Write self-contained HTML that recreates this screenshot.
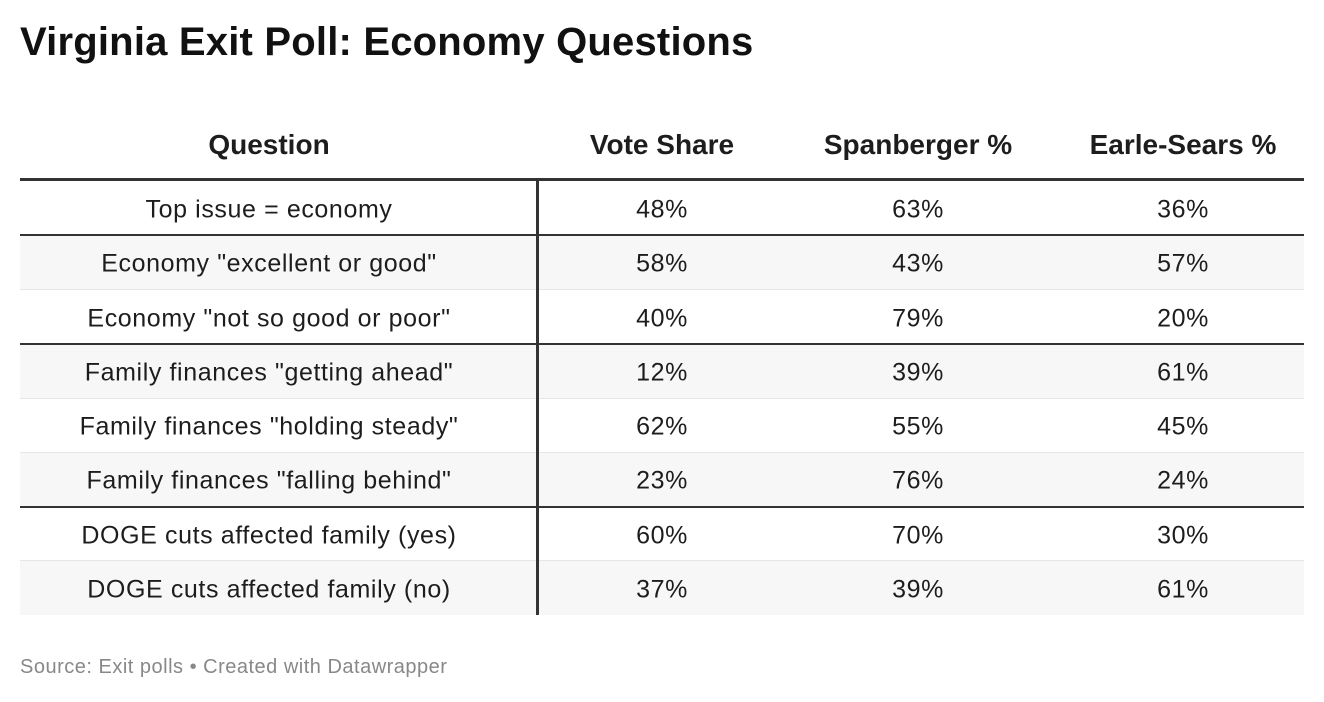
<!DOCTYPE html>
<html><head><meta charset="utf-8"><style>
body{margin:0;width:1324px;height:702px;background:#fff;font-family:"Liberation Sans",sans-serif;color:#1d1d1d;position:relative;overflow:hidden}
.abs{position:absolute}
.t{position:absolute;transform:translate(-50%,-50%);white-space:nowrap}
</style></head><body>
<div class="abs" style="left:20px;top:20px;font-size:40px;font-weight:bold;letter-spacing:0.2px;color:#111">Virginia Exit Poll: Economy Questions</div>
<div id="tbl"></div>
<div class="abs" style="left:20px;top:656px;font-size:20px;letter-spacing:0.5px;color:#888">Source: Exit polls • Created with Datawrapper</div>
<script>
const headers=["Question","Vote Share","Spanberger %","Earle-Sears %"];
const questions=["Top issue = economy","Economy \"excellent or good\"","Economy \"not so good or poor\"","Family finances \"getting ahead\"","Family finances \"holding steady\"","Family finances \"falling behind\"","DOGE cuts affected family (yes)","DOGE cuts affected family (no)"];
const voteShare=[48,58,40,12,62,23,60,37];
const spanberger=[63,43,79,39,55,76,70,39];
const earleSears=[36,57,20,61,45,24,30,61];
const groupBreaks=[1,3,6];
const tbl=document.getElementById('tbl');
const colX=[269,662,918,1183];
const top0=181,rowH=54.25,left=20,right=1304;
function add(html,css){const d=document.createElement('div');d.className=css.cls||'abs';d.style.cssText=css.s;d.textContent=html;tbl.appendChild(d);return d;}
headers.forEach((h,i)=>{const d=add(h,{cls:'t',s:`left:${colX[i]}px;top:145px;font-size:28px;font-weight:bold`});

});
const hl=add('',{s:`left:${left}px;top:178px;width:${right-left}px;height:3px;background:#333`});


questions.forEach((q,r)=>{
 const y=top0+r*rowH;
 const bg=add('',{s:`left:${left}px;top:${y}px;width:${right-left}px;height:${rowH}px;background:${r%2?'#f7f7f7':'#fff'}`});
 
 
 if(r>0){const thick=groupBreaks.includes(r);
  const ln=add('',{s:`left:${left}px;top:${y-(thick?1:0.5)}px;width:${right-left}px;height:${thick?2:1}px;background:${thick?'#333':'#e6e6e6'}`});
  
  }
 const vals=[q,voteShare[r]+'%',spanberger[r]+'%',earleSears[r]+'%'];
 vals.forEach((v,i)=>{const c=add(v,{cls:'t',s:`left:${colX[i]}px;top:${y+rowH/2+2}px;font-size:25px;letter-spacing:0.6px`});
  
  });
});
const vd=add('',{s:`left:536px;top:${top0}px;width:3px;height:${rowH*questions.length}px;background:#333`});


</script>
</body></html>
